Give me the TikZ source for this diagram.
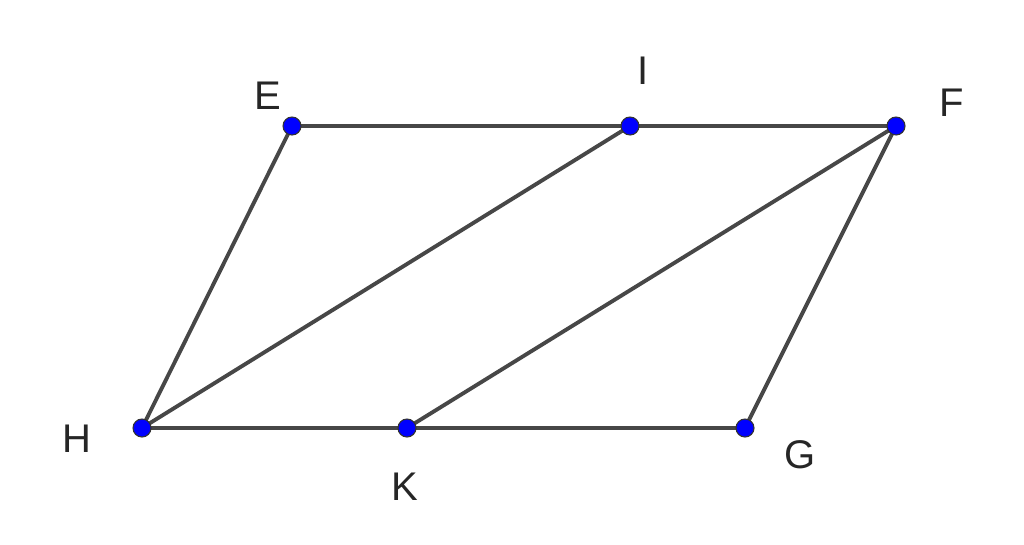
\documentclass[tikz,border=0pt]{standalone}
\usepackage{fontspec}
\setmainfont{Liberation Sans}
\begin{document}
\begin{tikzpicture}[x=0.75pt,y=-0.75pt,
  seg/.style={draw=black!72,line width=2.9pt},
  pt/.style={circle,fill=blue,draw=black!80,line width=0.8pt,inner sep=0pt,minimum size=13.5pt},
  lab/.style={font=\fontsize{30}{31}\selectfont,text=black!85}]
\useasboundingbox (0,0) rectangle (1024,544);
\coordinate (E) at (292,126);
\coordinate (I) at (630,126);
\coordinate (F) at (896,126);
\coordinate (H) at (142,428);
\coordinate (K) at (407,428);
\coordinate (G) at (745,428);
\draw[seg] (E) -- (I) -- (F) -- (G) -- (K) -- (H) -- cycle;
\draw[seg] (H) -- (I);
\draw[seg] (K) -- (F);
\foreach \p in {E,I,F,H,K,G} \node[pt] (p\p) at (\p) {};
\node[lab] (lE) at (268,96) {E};
\node[lab] (lI) at (643,71) {I};
\node[lab] (lF) at (952,103) {F};
\node[lab] (lH) at (77,439) {H};
\node[lab] (lK) at (405,487) {K};
\node[lab] (lG) at (800,455) {G};
\end{tikzpicture}
\end{document}
